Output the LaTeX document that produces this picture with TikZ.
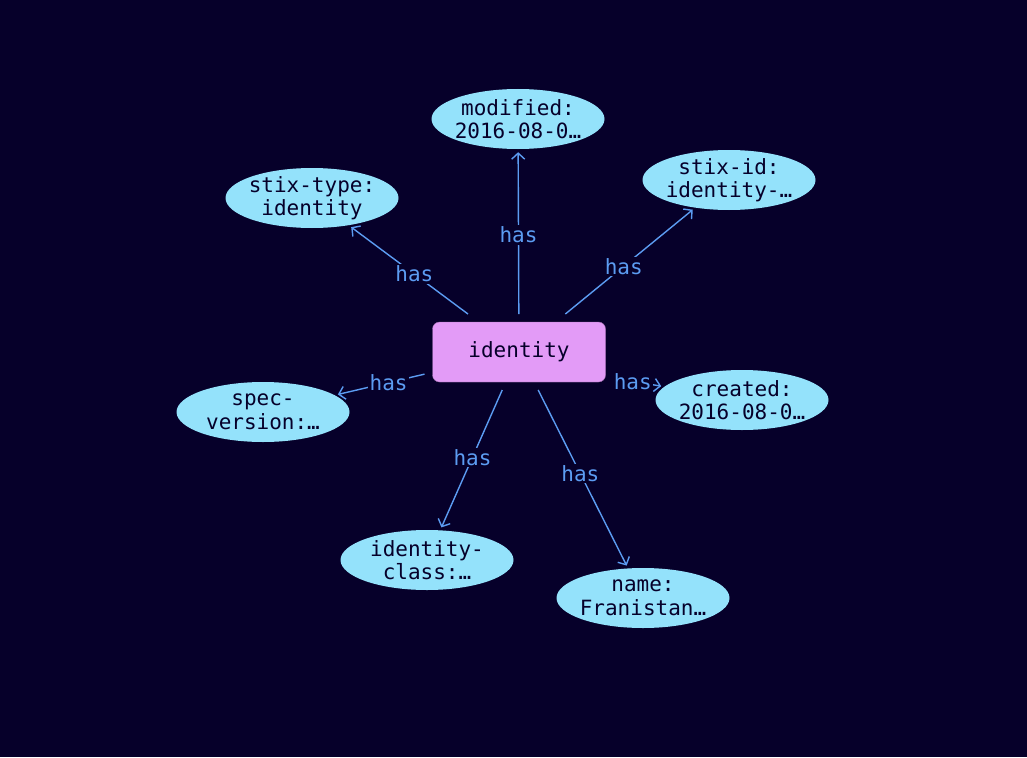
\documentclass[tikz,border=0pt]{standalone}
\usepackage{fontspec}
\setmonofont{DejaVu Sans Mono}
\usetikzlibrary{shapes.geometric,arrows.meta}
\definecolor{bgnavy}{HTML}{06002A}
\definecolor{propfill}{HTML}{94E2FB}
\definecolor{objfill}{HTML}{E39BF7}
\definecolor{edgeblue}{HTML}{5C9CF2}
\begin{document}
\begin{tikzpicture}[
    x=1pt,
    y=-1pt,
    prop/.style={ellipse, fill=propfill, minimum width=173pt, minimum height=60pt,
      inner sep=-5pt, align=center, font=\ttfamily\fontsize{21}{23.5}\selectfont, text=bgnavy},
    obj/.style={draw=objfill!70!black, fill=objfill, rounded corners=7pt, minimum width=173pt,
      minimum height=60pt, font=\ttfamily\fontsize{21}{23.5}\selectfont, text=bgnavy, outer sep=8pt},
    edge/.style={draw=edgeblue, line width=1.4pt, -{Straight Barb[length=6pt,width=13pt]}, shorten >=3pt},
    lbl/.style={fill=bgnavy, inner sep=1.5pt, text=edgeblue, font=\ttfamily\fontsize{21}{23.5}\selectfont}
  ]
    \fill[bgnavy] (0,0) rectangle (1027,757);
    \useasboundingbox (0,0) rectangle (1027,757);
    % centre object
    \node[obj] (identity) at (519,352) {identity};
    % properties
    \node[prop] (modified) at (518,119) {modified:\\2016-08-0…};
    \node[prop] (stixid) at (729,180) {stix-id:\\identity-…};
    \node[prop] (stixtype) at (312,198) {stix-type:\\identity};
    \node[prop] (specversion) at (263,412) {spec-\\version:…};
    \node[prop] (created) at (742,400) {created:\\2016-08-0…};
    \node[prop] (identityclass) at (427,560) {identity-\\class:…};
    \node[prop] (name) at (643,598) {name:\\Franistan…};
    % edges
    \draw[edge] (identity) -- node[lbl, pos=0.48]{has} (modified);
    \draw[edge] (identity) -- node[lbl, pos=0.45]{has} (stixid);
    \draw[edge] (identity) -- node[lbl, pos=0.45]{has} (stixtype);
    \draw[edge] (identity) -- node[lbl, pos=0.4]{has} (specversion);
    \draw[edge] (identity.east) ++(0,26) coordinate (ce) (ce) -- node[lbl, pos=0.38]{has} (created);
    \draw[edge] (identity) -- node[lbl, pos=0.48]{has} (identityclass);
    \draw[edge] (identity) -- node[lbl, pos=0.47]{has} (name);
  \end{tikzpicture}
\end{document}
